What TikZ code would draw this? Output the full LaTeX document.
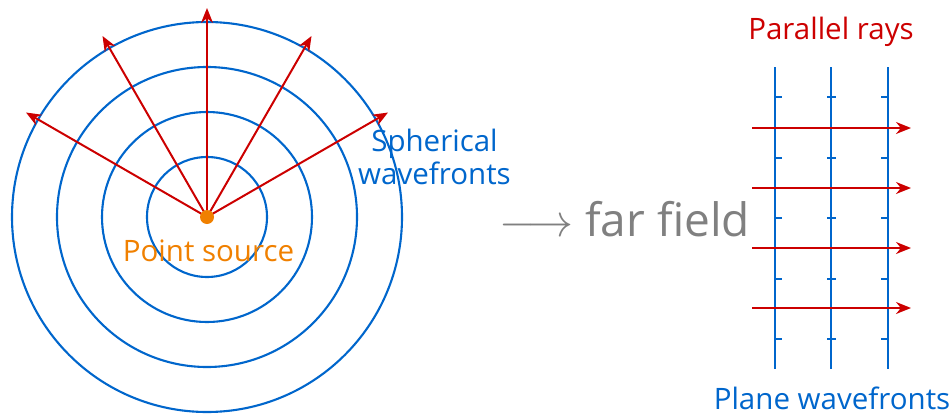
\RequirePackage{fix-cm}
\documentclass[tikz,border=0pt]{standalone}
\usepackage{fontspec}
\setmainfont{Open Sans}
\usetikzlibrary{arrows.meta}
\definecolor{wblue}{RGB}{0,102,204}
\definecolor{wred}{RGB}{204,0,0}
\definecolor{worange}{RGB}{240,128,0}
\definecolor{wgray}{RGB}{128,128,128}
\begin{document}
\begin{tikzpicture}[x=1pt,y=-1pt,
  wave/.style={draw=wblue,line width=2.1pt},
  ray/.style={draw=wred,line width=2pt,-{Stealth[length=15pt,width=12pt]}},
  tick/.style={draw=wblue,line width=2pt},
  lbl/.style={font=\fontsize{29.5}{33}\selectfont,inner sep=0pt,align=center}]
\useasboundingbox (0,0) rectangle (952,415);
% spherical wavefronts
\coordinate (c) at (207,217);
\foreach \r in {60,105,150,195} \draw[wave] (c) circle[radius=\r pt];
\foreach \a in {30,60,90,120,150} {
  \path (c) ++(\a:209pt) coordinate (r\a);
  \draw[ray] (c) -- (r\a);
}
\node[circle,fill=worange,minimum size=14pt,inner sep=0pt] (src) at (c) {};
\node[lbl,text=worange] (ps) at (208.5,251) {Point source};
\node[lbl,text=wblue] (sw) at (434.5,157) {Spherical\\wavefronts};
% far field
\node[inner sep=0pt,text=wgray,font=\fontsize{46}{50}\selectfont] (ff) at (624.5,219) {$\longrightarrow$ far field};
% plane wavefronts
\foreach \x/\n in {775/a,831/b,888/c} {
  \coordinate (t\n) at (\x,67);
  \coordinate (b\n) at (\x,369);
  \draw[wave] (t\n) -- (b\n);
}
\foreach \y in {97,158,218,279,339} {
  \draw[tick] (775,\y) -- (782,\y);
  \draw[tick] (827,\y) -- (836,\y);
  \draw[tick] (881,\y) -- (888,\y);
}
\foreach \y in {128,188,248,308} {
  \coordinate (s\y) at (752,\y);
  \coordinate (e\y) at (911,\y);
  \draw[ray] (s\y) -- (e\y);
}
\node[lbl,text=wred] (pr) at (831,32) {Parallel rays};
\node[lbl,text=wblue] (pw) at (832,398) {Plane wavefronts};
\end{tikzpicture}
\end{document}
